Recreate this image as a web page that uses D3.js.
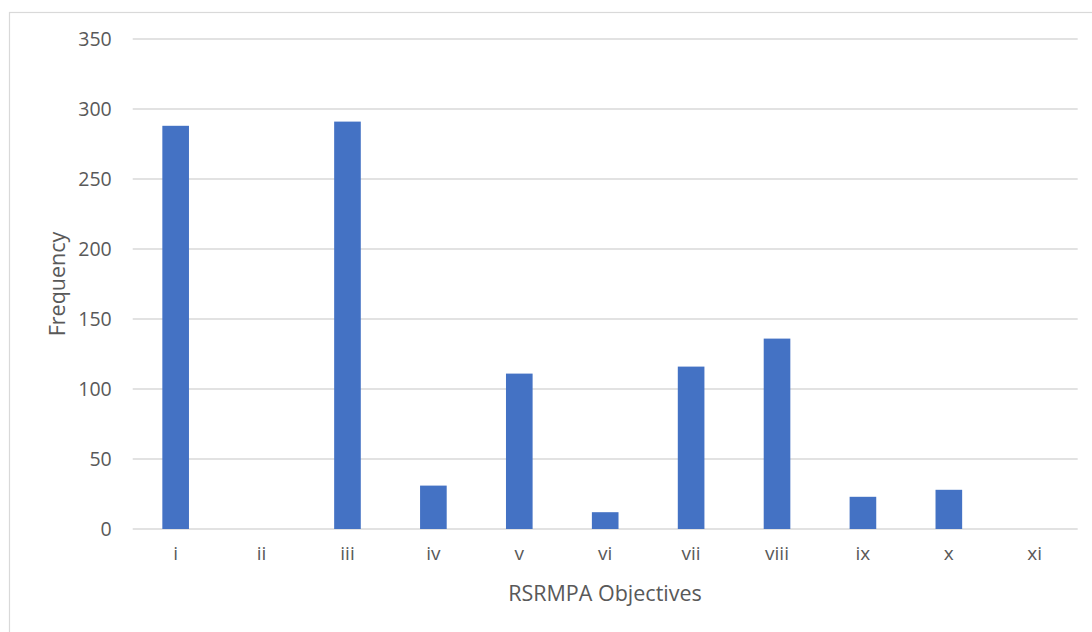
<!DOCTYPE html>
<html>
<head>
<meta charset="utf-8">
<script src="https://cdn.jsdelivr.net/npm/d3@7/dist/d3.min.js"></script>
<style>
  html, body { margin: 0; padding: 0; background: #fff; }
  svg { display: block; }
  text { font-family: "Open Sans", "Liberation Sans", sans-serif; fill: #595959; }
</style>
</head>
<body>
<svg id="chart" width="1092" height="632"></svg>
<script>
// Objective categories and how often each was cited
const objectives = ["i", "ii", "iii", "iv", "v", "vi", "vii", "viii", "ix", "x", "xi"];
const frequency = [288, 0, 291, 31, 111, 12, 116, 136, 23, 28, 0];
const yTicks = [0, 50, 100, 150, 200, 250, 300, 350];

const svg = d3.select("#chart");
const plot = { left: 132.7, right: 1077.7, top: 39, bottom: 529 };

// Outer chart frame
svg.append("rect")
  .attr("x", 9.5).attr("y", 12.5)
  .attr("width", 1200).attr("height", 800)
  .attr("fill", "#fff")
  .attr("stroke", "#d9d9d9").attr("stroke-width", 1.2);

const x = d3.scaleBand()
  .domain(objectives)
  .range([plot.left, plot.right])
  .paddingInner(0.69)
  .paddingOuter(0.345);

const y = d3.scaleLinear()
  .domain([0, 350])
  .range([plot.bottom, plot.top]);

// Horizontal gridlines
svg.append("g")
  .selectAll("line")
  .data(yTicks)
  .join("line")
  .attr("x1", plot.left).attr("x2", plot.right)
  .attr("y1", d => y(d)).attr("y2", d => y(d))
  .attr("stroke", "#d9d9d9").attr("stroke-width", 1.3);

// Y axis tick labels
const yAxis = d3.axisLeft(y).tickValues(yTicks).tickSize(0).tickPadding(0);
svg.append("g")
  .attr("transform", `translate(${plot.left - 21},0)`)
  .call(yAxis)
  .call(g => g.select(".domain").remove())
  .call(g => g.selectAll("text")
    .attr("font-size", 19.5)
    .style("font-family", "'Open Sans', sans-serif")
    .attr("fill", "#595959"));

// Bars
svg.append("g")
  .selectAll("rect")
  .data(objectives.map((o, i) => ({ o, v: frequency[i] })))
  .join("rect")
  .attr("x", d => x(d.o))
  .attr("width", x.bandwidth())
  .attr("y", d => y(d.v))
  .attr("height", d => y(0) - y(d.v))
  .attr("fill", "#4472c4");

// X axis category labels
const xAxis = d3.axisBottom(x).tickSize(0).tickPadding(0);
svg.append("g")
  .attr("transform", `translate(0,${plot.bottom + 17})`)
  .call(xAxis)
  .call(g => g.select(".domain").remove())
  .call(g => g.selectAll("text")
    .attr("font-size", 19)
    .style("font-family", "'Open Sans', sans-serif")
    .attr("fill", "#595959"));

// Axis titles
svg.append("text")
  .attr("x", 605).attr("y", 601)
  .attr("text-anchor", "middle")
  .attr("font-size", 21.5)
  .text("RSRMPA Objectives");

svg.append("text")
  .attr("transform", "translate(65,284) rotate(-90)")
  .attr("text-anchor", "middle")
  .attr("font-size", 21.5)
  .text("Frequency");
</script>
</body>
</html>
